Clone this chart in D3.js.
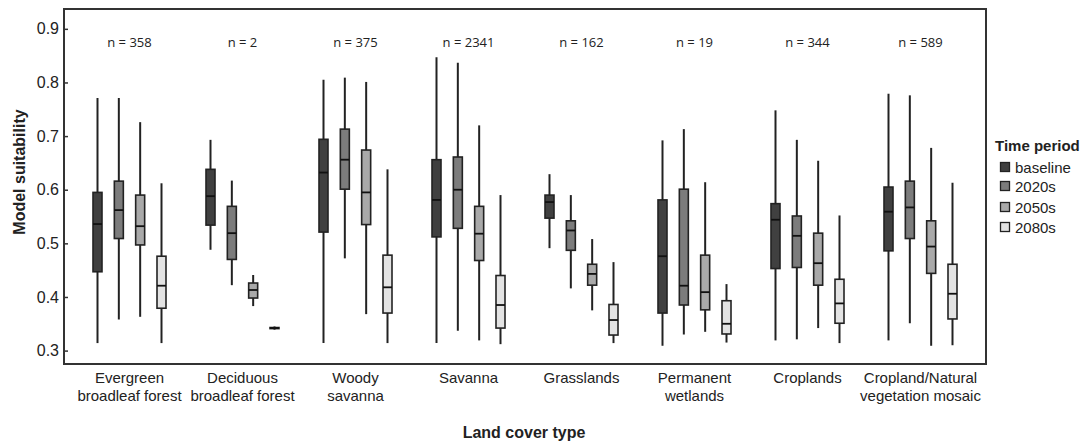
<!DOCTYPE html>
<html lang="en">
<head>
<meta charset="utf-8">
<title>Model suitability by land cover type</title>
<script src="https://d3js.org/d3.v7.min.js"></script>
<style>
  body { margin: 0; background: #fff; }
  svg text { font-family: "Liberation Sans", Arial, sans-serif; fill: #222; }
  .nlab { font-family: "Open Sans", sans-serif; font-size: 13px; }
</style>
</head>
<body>
<div id="chart"></div>
<script>
// land cover categories (two-line labels)
var categories = [
  ['Evergreen', 'broadleaf forest'],
  ['Deciduous', 'broadleaf forest'],
  ['Woody', 'savanna'],
  ['Savanna'],
  ['Grasslands'],
  ['Permanent', 'wetlands'],
  ['Croplands'],
  ['Cropland/Natural', 'vegetation mosaic']
];
var sampleSizes = [358, 2, 375, 2341, 162, 19, 344, 589];
var periods = ['baseline', '2020s', '2050s', '2080s'];
var yTicks = [0.3, 0.4, 0.5, 0.6, 0.7, 0.8, 0.9];

// [whisker low, q1, median, q3, whisker high] per period, per category
var baseline = [
  [0.314, 0.447, 0.536, 0.595, 0.771],
  [0.488, 0.534, 0.588, 0.638, 0.693],
  [0.314, 0.521, 0.632, 0.694, 0.805],
  [0.314, 0.512, 0.581, 0.656, 0.847],
  [0.491, 0.547, 0.577, 0.590, 0.629],
  [0.309, 0.370, 0.476, 0.581, 0.692],
  [0.319, 0.453, 0.544, 0.574, 0.748],
  [0.319, 0.486, 0.559, 0.605, 0.779]
];
var s2020 = [
  [0.358, 0.509, 0.562, 0.616, 0.771],
  [0.422, 0.470, 0.519, 0.569, 0.617],
  [0.472, 0.601, 0.656, 0.713, 0.809],
  [0.337, 0.528, 0.600, 0.661, 0.837],
  [0.416, 0.487, 0.524, 0.542, 0.590],
  [0.330, 0.385, 0.421, 0.601, 0.713],
  [0.321, 0.455, 0.514, 0.551, 0.693],
  [0.351, 0.509, 0.567, 0.616, 0.776]
];
var s2050 = [
  [0.363, 0.497, 0.532, 0.590, 0.726],
  [0.383, 0.398, 0.413, 0.426, 0.441],
  [0.368, 0.535, 0.595, 0.674, 0.801],
  [0.319, 0.468, 0.518, 0.569, 0.720],
  [0.375, 0.422, 0.443, 0.461, 0.508],
  [0.335, 0.376, 0.409, 0.478, 0.614],
  [0.342, 0.422, 0.463, 0.519, 0.654],
  [0.309, 0.444, 0.494, 0.542, 0.678]
];
var s2080 = [
  [0.314, 0.379, 0.421, 0.476, 0.612],
  [0.339, 0.341, 0.342, 0.343, 0.345],
  [0.314, 0.370, 0.418, 0.478, 0.638],
  [0.312, 0.342, 0.385, 0.440, 0.590],
  [0.314, 0.329, 0.357, 0.386, 0.465],
  [0.315, 0.331, 0.350, 0.393, 0.424],
  [0.314, 0.351, 0.388, 0.433, 0.552],
  [0.310, 0.359, 0.406, 0.461, 0.613]
];
var seriesByPeriod = [baseline, s2020, s2050, s2080];
var fills = ['#404040', '#7c7c7c', '#a9a9a9', '#e3e3e3'];

var width = 1082, height = 443;
var frame = { left: 64, right: 986, top: 9, bottom: 364 };

var svg = d3.select('#chart').append('svg')
  .attr('width', width)
  .attr('height', height);

var y = d3.scaleLinear().domain([0.275, 0.937]).range([frame.bottom, frame.top]);
var x = d3.scaleBand().domain(d3.range(categories.length)).range([73, 977]).padding(0);
var xInner = d3.scalePoint().domain(periods).range([-32, 32]);
var color = d3.scaleOrdinal().domain(periods).range(fills);

// frame
svg.append('rect')
  .attr('x', frame.left).attr('y', frame.top)
  .attr('width', frame.right - frame.left)
  .attr('height', frame.bottom - frame.top)
  .attr('fill', 'none').attr('stroke', '#333').attr('stroke-width', 2);

// y axis, ticks pointing in
var yAxis = svg.append('g')
  .attr('transform', 'translate(' + frame.left + ',0)')
  .call(d3.axisRight(y).tickValues(yTicks).tickFormat(d3.format('.1f')).tickSize(4));
yAxis.select('.domain').remove();
yAxis.selectAll('line').attr('stroke', '#333').attr('stroke-width', 1.5);
yAxis.selectAll('text')
  .attr('x', -5).attr('text-anchor', 'end')
  .style('font-size', '16px').attr('fill', '#222');

svg.append('text')
  .attr('transform', 'translate(25,' + 172 + ') rotate(-90)')
  .attr('text-anchor', 'middle')
  .style('font-size', '16px').style('font-weight', 'bold')
  .text('Model suitability');

svg.append('text')
  .attr('x', 524).attr('y', 438)
  .attr('text-anchor', 'middle')
  .style('font-size', '16px').style('font-weight', 'bold')
  .text('Land cover type');

// category labels
var cats = svg.selectAll('.cat').data(categories).enter().append('text')
  .attr('class', 'cat')
  .attr('text-anchor', 'middle')
  .style('font-size', '15px');
cats.selectAll('tspan').data(function(d, i) {
    return d.map(function(line) { return { line: line, i: i }; });
  }).enter().append('tspan')
  .attr('x', function(d) { return x(d.i) + x.bandwidth() / 2; })
  .attr('y', function(d, j) { return 383 + j * 18; })
  .text(function(d) { return d.line; });

// n labels
svg.selectAll('.nlab').data(sampleSizes).enter().append('text')
  .attr('class', 'nlab')
  .attr('x', function(d, i) { return x(i) + x.bandwidth() / 2; })
  .attr('y', 47)
  .attr('text-anchor', 'middle')
  .text(function(d) { return 'n = ' + d; });

// boxes
var boxW = 9;
periods.forEach(function(p, k) {
  var data = seriesByPeriod[k];
  var g = svg.append('g').attr('class', 'period');
  var box = g.selectAll('g').data(data).enter().append('g')
    .attr('transform', function(d, i) {
      return 'translate(' + (x(i) + x.bandwidth() / 2 + xInner(p)) + ',0)';
    });
  box.append('line')
    .attr('y1', function(d) { return y(d[0]); })
    .attr('y2', function(d) { return y(d[4]); })
    .attr('stroke', '#222').attr('stroke-width', 2);
  box.append('rect')
    .attr('x', -boxW / 2)
    .attr('width', boxW)
    .attr('y', function(d) { return y(d[3]); })
    .attr('height', function(d) { return Math.max(1, y(d[1]) - y(d[3])); })
    .attr('fill', color(p))
    .attr('stroke', '#222').attr('stroke-width', 1.6);
  box.append('line')
    .attr('x1', -boxW / 2).attr('x2', boxW / 2)
    .attr('y1', function(d) { return y(d[2]); })
    .attr('y2', function(d) { return y(d[2]); })
    .attr('stroke', '#111').attr('stroke-width', 1.8);
});

// legend
var legend = svg.append('g').attr('transform', 'translate(995,0)');
legend.append('text')
  .attr('x', 0).attr('y', 151)
  .style('font-size', '15px').style('font-weight', 'bold')
  .text('Time period');
var item = legend.selectAll('.item').data(periods).enter().append('g')
  .attr('class', 'item')
  .attr('transform', function(d, i) { return 'translate(0,' + [167, 186, 207, 227][i] + ')'; });
item.append('rect')
  .attr('x', 5.5).attr('y', -4.5)
  .attr('width', 9).attr('height', 9)
  .attr('fill', function(d) { return color(d); })
  .attr('stroke', '#222').attr('stroke-width', 1.3);
item.append('text')
  .attr('x', 20).attr('y', 5.5)
  .style('font-size', '15px')
  .text(function(d) { return d; });
</script>
</body>
</html>
